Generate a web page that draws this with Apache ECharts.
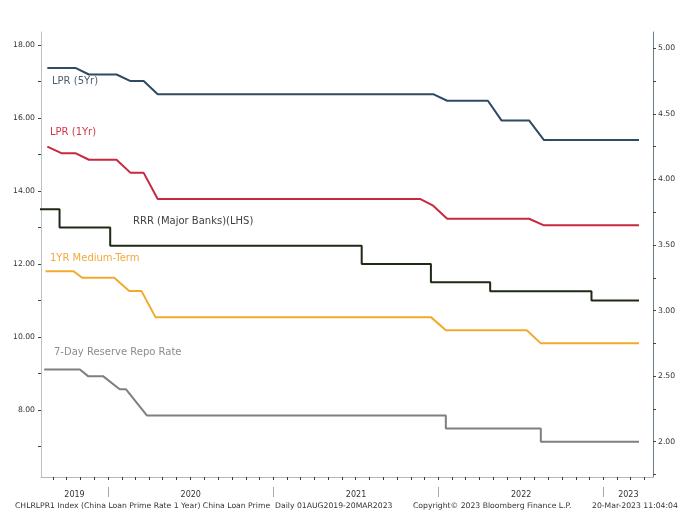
<!DOCTYPE html>
<html>
<head>
<meta charset="utf-8">
<script src="https://cdn.jsdelivr.net/npm/echarts@6/dist/echarts.min.js"></script>
<style>
html, body { margin: 0; padding: 0; background: #fff; }
#chart { width: 700px; height: 517px; }
</style>
</head>
<body>
<div id="chart"></div>
<script>
// LPR 5年 (右轴)
var LPR5_DATES = ['2019-08-20', '2019-10-21', '2019-11-20', '2020-01-20', '2020-02-20', '2020-03-20', '2020-04-20',
    '2021-12-20', '2022-01-20', '2022-04-20', '2022-05-20', '2022-07-20', '2022-08-22', '2023-03-20'];
var LPR5_VALUES = [4.85, 4.85, 4.80, 4.80, 4.75, 4.75, 4.65, 4.65, 4.60, 4.60, 4.45, 4.45, 4.30, 4.30];

// LPR 1年 (右轴)
var LPR1_DATES = ['2019-08-20', '2019-09-20', '2019-10-21', '2019-11-20', '2020-01-20', '2020-02-20', '2020-03-20', '2020-04-20',
    '2021-11-22', '2021-12-20', '2022-01-20', '2022-07-20', '2022-08-22', '2023-03-20'];
var LPR1_VALUES = [4.25, 4.20, 4.20, 4.15, 4.15, 4.05, 4.05, 3.85, 3.85, 3.80, 3.70, 3.70, 3.65, 3.65];

// 存款准备金率 大型银行 (左轴)
var RRR_DATES = ['2019-08-01', '2019-09-16', '2020-01-06', '2021-07-15', '2021-12-15', '2022-04-25', '2022-12-05', '2023-03-20'];
var RRR_VALUES = [13.5, 13.0, 12.5, 12.0, 11.5, 11.25, 11.0, 11.0];

// 1年期MLF (右轴)
var MLF_DATES = ['2019-08-16', '2019-10-17', '2019-11-05', '2020-01-15', '2020-02-17', '2020-03-15', '2020-04-15',
    '2021-12-15', '2022-01-17', '2022-07-15', '2022-08-15', '2023-03-20'];
var MLF_VALUES = [3.30, 3.30, 3.25, 3.25, 3.15, 3.15, 2.95, 2.95, 2.85, 2.85, 2.75, 2.75];

// 7天逆回购 (右轴)
var REPO_DATES = ['2019-08-13', '2019-10-31', '2019-11-18', '2019-12-21', '2020-01-27', '2020-02-10', '2020-03-27',
    '2022-01-17', '2022-01-17', '2022-08-15', '2022-08-15', '2023-03-20'];
var REPO_VALUES = [2.55, 2.55, 2.50, 2.50, 2.40, 2.40, 2.20, 2.20, 2.10, 2.10, 2.00, 2.00];

// 坐标轴刻度
var LEFT_TICKS = [7, 8, 9, 10, 11, 12, 13, 14, 15, 16, 17, 18];
var LEFT_LABELS = [8, 10, 12, 14, 16, 18];
var RIGHT_TICKS = [1.75, 2.0, 2.25, 2.5, 2.75, 3.0, 3.25, 3.5, 3.75, 4.0, 4.25, 4.5, 4.75, 5.0];
var RIGHT_LABELS = [2.0, 2.5, 3.0, 3.5, 4.0, 4.5, 5.0];
var YEARS = [2019, 2020, 2021, 2022, 2023];
var X_MIN = '2019-08-06';
var X_MAX = '2023-04-20';

function ts(d) {
    return +new Date(d + 'T00:00:00Z');
}
function pairs(dates, values) {
    var out = [];
    for (var i = 0; i < dates.length; i++) {
        out.push([ts(dates[i]), values[i]]);
    }
    return out;
}

var xMin = ts(X_MIN), xMax = ts(X_MAX);

// 月度刻度
var monthTicks = [];
for (var y = 2019; y <= 2023; y++) {
    for (var m = 0; m < 12; m++) {
        var t = Date.UTC(y, m, 1);
        if (t > xMin && t < xMax) monthTicks.push(t);
    }
}
// 年分隔线 与 年份标签位置
var yearStarts = [];
var yearMids = [];
var yearOfMid = {};
for (var i = 0; i < YEARS.length; i++) {
    var s = Date.UTC(YEARS[i], 0, 1), e = Date.UTC(YEARS[i] + 1, 0, 1);
    if (s > xMin) yearStarts.push(s);
    var mid = Math.round((Math.max(s, xMin) + Math.min(e, xMax)) / 2);
    yearMids.push(mid);
    yearOfMid[mid] = YEARS[i];
}

var textFont = 'DejaVu Sans';

function lineSeries(name, data, color, axis, step) {
    return {
        name: name,
        type: 'line',
        yAxisIndex: axis,
        data: data,
        step: step || false,
        symbol: 'none',
        silent: true,
        lineStyle: { color: color, width: 2 },
        itemStyle: { color: color }
    };
}

function note(text, x, y, color, size, font) {
    return {
        type: 'text',
        left: x,
        top: y,
        style: {
            text: text,
            fill: color,
            font: (size || 10) + 'px "' + (font || textFont) + '"'
        }
    };
}

var option = {
    backgroundColor: '#ffffff',
    animation: false,
    grid: { left: 41, right: 47, top: 32, bottom: 40 },
    xAxis: [
        {
            type: 'value',
            min: xMin,
            max: xMax,
            axisLine: { show: true, lineStyle: { color: '#b4b8bc', width: 1 } },
            axisTick: { show: false },
            axisLabel: {
                customValues: yearMids,
                margin: 14,
                color: '#333',
                fontFamily: textFont,
                fontSize: 8,
                formatter: function (v) { return yearOfMid[v] || ''; }
            },
            splitLine: { show: false }
        },
        {
            // 月度小刻度
            type: 'value',
            position: 'bottom',
            min: xMin,
            max: xMax,
            axisLine: { show: false },
            axisTick: { show: true, customValues: monthTicks, length: 3, lineStyle: { color: '#3a3a3a', width: 1 } },
            axisLabel: { show: false },
            splitLine: { show: false }
        },
        {
            // 年分隔线
            type: 'value',
            position: 'bottom',
            offset: 10,
            min: xMin,
            max: xMax,
            axisLine: { show: false },
            axisTick: { show: true, customValues: yearStarts, length: 10, lineStyle: { color: '#a8a8a8' } },
            axisLabel: { show: false },
            splitLine: { show: false }
        }
    ],
    yAxis: [
        {
            type: 'value',
            position: 'left',
            min: 6.16,
            max: 18.36,
            axisLine: { show: true, lineStyle: { color: '#b8c2cc' } },
            axisTick: { show: true, customValues: LEFT_TICKS, length: 3, lineStyle: { color: '#444' } },
            axisLabel: {
                customValues: LEFT_LABELS,
                margin: 6,
                color: '#333',
                fontFamily: textFont,
                fontSize: 7.7,
                formatter: function (v) { return v.toFixed(2); }
            },
            splitLine: { show: false }
        },
        {
            type: 'value',
            position: 'right',
            min: 1.731,
            max: 5.124,
            axisLine: { show: true, lineStyle: { color: '#6e7c8a' } },
            axisTick: { show: true, customValues: RIGHT_TICKS, length: 3, lineStyle: { color: '#444' } },
            axisLabel: {
                customValues: RIGHT_LABELS,
                margin: 5,
                color: '#333',
                fontFamily: textFont,
                fontSize: 7.7,
                formatter: function (v) { return v.toFixed(2); }
            },
            splitLine: { show: false }
        }
    ],
    series: [
        lineSeries('LPR (5Yr)', pairs(LPR5_DATES, LPR5_VALUES), '#2f4a62', 1),
        lineSeries('LPR (1Yr)', pairs(LPR1_DATES, LPR1_VALUES), '#c8283e', 1),
        lineSeries('RRR (Major Banks)(LHS)', pairs(RRR_DATES, RRR_VALUES), '#1e2a16', 0, 'end'),
        lineSeries('1YR Medium-Term', pairs(MLF_DATES, MLF_VALUES), '#f2aa2e', 1),
        lineSeries('7-Day Reserve Repo Rate', pairs(REPO_DATES, REPO_VALUES), '#7f7f7f', 1)
    ],
    graphic: [
        note('LPR (5Yr)', 52, 76, '#4e5d6c'),
        note('LPR (1Yr)', 50, 127, '#d0384a'),
        note('RRR (Major Banks)(LHS)', 133, 216, '#404040'),
        note('1YR Medium-Term', 50, 253, '#f0aa3c'),
        note('7-Day Reserve Repo Rate', 54, 347, '#8c8c8c'),
        note('CHLRLPR1 Index (China Loan Prime Rate 1 Year) China Loan Prime', 15, 502, '#333', 7.7),
        note('Daily 01AUG2019-20MAR2023', 275, 502, '#333', 7.7),
        note('Copyright\u00a9 2023 Bloomberg Finance L.P.', 413, 502, '#333', 7.7),
        note('20-Mar-2023 11:04:04', 592, 502, '#333', 7.7)
    ]
};

var dom = document.getElementById('chart');
var myChart = echarts.init(dom);
myChart.setOption(option, true);
</script>
</body>
</html>
